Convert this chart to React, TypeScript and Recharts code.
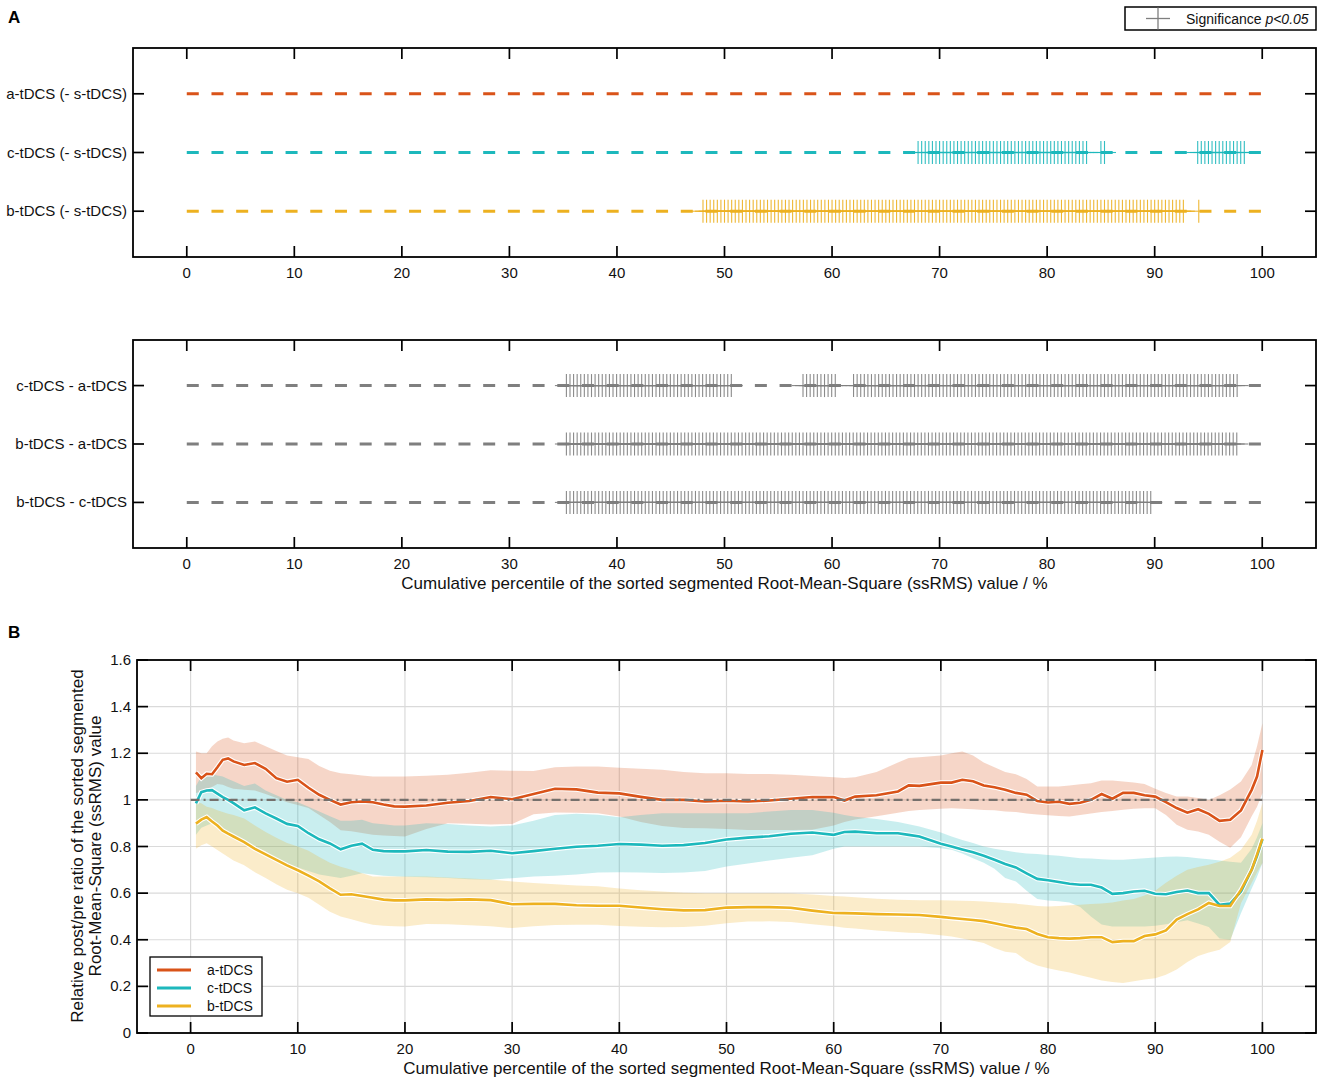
import React from "react"
import { ComposedChart, Line, Scatter, Area, XAxis, YAxis, CartesianGrid, ReferenceLine } from "recharts"

const W = 1325
const H = 1083
const FONT = "'Liberation Sans', Arial, Helvetica, sans-serif"

const RED = "#D95319"
const CYAN = "#1DB8BC"
const YELLOW = "#EDB120"
const GRAY = "#7F7F7F"

// shared x axis
const pctTicks = [0, 10, 20, 30, 40, 50, 60, 70, 80, 90, 100]
const xDomain = [-5, 105]
const lineSpan = [0, 100]

// panel A: significance rows
const rowsVsSham = ["a-tDCS (- s-tDCS)", "c-tDCS (- s-tDCS)", "b-tDCS (- s-tDCS)"]
const rowsPairs = ["c-tDCS - a-tDCS", "b-tDCS - a-tDCS", "b-tDCS - c-tDCS"]
const rowTicks = [1, 2, 3]
const sigStep = 1 / 3 // percentile grid of the tests
// significant percentile ranges [from, to] per row (p<0.05)
const sigVsSham = [[], [[68, 83.7], [85, 85.6], [94, 98.4]], [[48, 92.7], [94.1, 94.1]]]
const sigPairs = [[[35.3, 50.7], [57.3, 60.3], [62, 97.7]], [[35.3, 97.7]], [[35.3, 89.7]]]

// panel B: ratio curves with confidence bands
const pct = [0.5, 1, 1.5, 2, 2.5, 3, 3.5, 4, 5, 6, 7, 8, 9, 10, 11, 12, 13, 14, 15, 16, 17, 18, 19, 20, 22, 24, 26, 28, 30, 32, 34, 36, 38, 40, 42, 44, 46, 48, 50, 52, 54, 56, 58, 60, 61, 62, 64, 66, 67, 68, 70, 71, 72, 73, 74, 75, 76, 77, 78, 79, 80, 81, 82, 83, 84, 85, 86, 87, 88, 89, 90, 91, 92, 93, 94, 95, 96, 97, 98, 99, 99.5, 100]

const aMean = [1.118, 1.093, 1.112, 1.11, 1.14, 1.172, 1.178, 1.165,
  1.15, 1.158, 1.133, 1.093, 1.078, 1.086, 1.052, 1.022, 1.0, 0.98, 0.99, 0.993, 0.99, 0.98, 0.972, 0.971,
  0.976, 0.988, 0.995, 1.012, 1.003, 1.025, 1.048, 1.045, 1.031, 1.028, 1.013, 1.0, 1.0, 0.993, 0.996, 0.993, 0.997, 1.005, 1.012, 1.012,
  0.997, 1.014,
  1.02, 1.036, 1.062, 1.06,
  1.074, 1.074, 1.086, 1.08, 1.062, 1.054, 1.043, 1.03, 1.022, 0.995,
  0.989, 0.992, 0.983, 0.988, 1.0, 1.025, 1.005, 1.03, 1.03, 1.02,
  1.014, 0.99, 0.965, 0.945, 0.96, 0.94, 0.91, 0.915, 0.955, 1.043,
  1.1, 1.214]
const aHi = [1.207, 1.2, 1.2, 1.23, 1.25, 1.262, 1.268, 1.255,
  1.243, 1.25, 1.23, 1.21, 1.19, 1.183, 1.175, 1.145, 1.125, 1.114, 1.11, 1.105, 1.1, 1.1, 1.1, 1.1,
  1.103, 1.108, 1.116, 1.127, 1.125, 1.124, 1.14, 1.143, 1.143, 1.138, 1.133, 1.129, 1.12, 1.114, 1.114, 1.111, 1.111, 1.108, 1.102, 1.097,
  1.094, 1.097,
  1.12, 1.16, 1.18, 1.183,
  1.19, 1.2, 1.207, 1.19, 1.16, 1.14, 1.12, 1.11, 1.09, 1.057,
  1.057, 1.057, 1.062, 1.067, 1.071, 1.083, 1.083, 1.079, 1.075, 1.068,
  1.048, 1.03, 1.014, 1.014, 1.008, 1.0, 1.02, 1.045, 1.079, 1.15,
  1.23, 1.329]
const aLo = [1.03, 1.035, 1.043, 1.055, 1.068, 1.065, 1.055, 1.048,
  1.043, 1.04, 1.025, 1.008, 0.99, 0.978, 0.965, 0.935, 0.905, 0.87, 0.865, 0.858, 0.85, 0.847, 0.845, 0.843,
  0.875, 0.9, 0.898, 0.894, 0.897, 0.938, 0.946, 0.945, 0.943, 0.929, 0.905, 0.888, 0.879, 0.878, 0.875, 0.871, 0.871, 0.871, 0.872, 0.89,
  0.905, 0.916,
  0.93, 0.945, 0.952, 0.957,
  0.962, 0.964, 0.962, 0.96, 0.957, 0.955, 0.95, 0.948, 0.942, 0.937,
  0.934, 0.931, 0.929, 0.935, 0.942, 0.948, 0.952, 0.958, 0.962, 0.964,
  0.964, 0.935, 0.893, 0.872, 0.864, 0.85, 0.82, 0.795, 0.84, 0.93,
  0.97, 1.029]

const cMean = [0.985, 1.033, 1.04, 1.042, 1.027, 1.012, 1.0, 0.986,
  0.955, 0.968, 0.942, 0.92, 0.897, 0.888, 0.857, 0.831, 0.813, 0.788, 0.803, 0.812, 0.786, 0.78, 0.779, 0.779,
  0.785, 0.778, 0.777, 0.782, 0.771, 0.78, 0.79, 0.799, 0.803, 0.811, 0.808, 0.803, 0.806, 0.815, 0.83, 0.838, 0.844, 0.855, 0.86, 0.85,
  0.862, 0.864,
  0.857, 0.857, 0.85, 0.843,
  0.812, 0.8, 0.787, 0.775, 0.76, 0.743, 0.725, 0.71, 0.685, 0.661,
  0.655, 0.648, 0.64, 0.636, 0.636, 0.624, 0.597, 0.6, 0.607, 0.61,
  0.597, 0.595, 0.605, 0.611, 0.6, 0.6, 0.55, 0.555, 0.607, 0.7,
  0.76, 0.831]
const cHi = [1.06, 1.1, 1.105, 1.11, 1.105, 1.1, 1.09, 1.08,
  1.06, 1.07, 1.04, 1.02, 1.0, 0.99, 0.97, 0.95, 0.93, 0.91, 0.91, 0.915, 0.9, 0.895, 0.89, 0.89,
  0.9, 0.897, 0.89, 0.886, 0.89, 0.91, 0.935, 0.94, 0.936, 0.925, 0.935, 0.943, 0.943, 0.943, 0.943, 0.943, 0.95, 0.957, 0.957, 0.945,
  0.935, 0.928,
  0.918, 0.905, 0.895, 0.886,
  0.86, 0.843, 0.828, 0.815, 0.8, 0.79, 0.783, 0.775, 0.77, 0.768,
  0.764, 0.76, 0.755, 0.75, 0.748, 0.745, 0.743, 0.743, 0.746, 0.75,
  0.753, 0.756, 0.757, 0.755, 0.75, 0.745, 0.74, 0.735, 0.73, 0.79,
  0.84, 0.9]
const cLo = [0.85, 0.88, 0.89, 0.9, 0.885, 0.87, 0.855, 0.84,
  0.81, 0.8, 0.78, 0.745, 0.725, 0.71, 0.695, 0.68, 0.672, 0.665, 0.675, 0.685, 0.68, 0.675, 0.672, 0.67,
  0.668, 0.665, 0.66, 0.657, 0.664, 0.671, 0.674, 0.68, 0.689, 0.69, 0.688, 0.686, 0.688, 0.695, 0.714, 0.727, 0.74, 0.752, 0.762, 0.79,
  0.8, 0.8,
  0.8, 0.8, 0.8, 0.8,
  0.792, 0.786, 0.77, 0.75, 0.73, 0.705, 0.665, 0.65, 0.61, 0.575,
  0.568, 0.565, 0.56, 0.54, 0.5, 0.465, 0.457, 0.457, 0.457, 0.457,
  0.46, 0.466, 0.475, 0.484, 0.47, 0.455, 0.405, 0.4, 0.514, 0.62,
  0.67, 0.729]

const bMean = [0.898, 0.915, 0.926, 0.907, 0.89, 0.868, 0.855, 0.843,
  0.819, 0.79, 0.766, 0.743, 0.719, 0.698, 0.675, 0.65, 0.62, 0.593, 0.595, 0.588, 0.58, 0.572, 0.569, 0.569,
  0.573, 0.571, 0.573, 0.57, 0.552, 0.554, 0.554, 0.548, 0.546, 0.546, 0.538, 0.531, 0.526, 0.527, 0.538, 0.54, 0.54, 0.537, 0.525, 0.515,
  0.514, 0.513,
  0.51, 0.508, 0.507, 0.506,
  0.498, 0.493, 0.489, 0.485, 0.48, 0.471, 0.461, 0.452, 0.446, 0.425,
  0.411, 0.407, 0.405, 0.407, 0.411, 0.411, 0.39, 0.394, 0.394, 0.416,
  0.423, 0.44, 0.487, 0.51, 0.53, 0.558, 0.545, 0.545, 0.614, 0.7,
  0.765, 0.834]
const bHi = [0.99, 0.985, 0.97, 0.965, 0.955, 0.948, 0.94, 0.935,
  0.92, 0.89, 0.862, 0.838, 0.815, 0.8, 0.782, 0.755, 0.73, 0.713, 0.7, 0.685, 0.671, 0.671, 0.671, 0.671,
  0.671, 0.667, 0.663, 0.658, 0.65, 0.643, 0.638, 0.633, 0.629, 0.62, 0.612, 0.607, 0.602, 0.6, 0.6, 0.6, 0.6, 0.598, 0.594, 0.588,
  0.585, 0.582,
  0.576, 0.572, 0.57, 0.569,
  0.569, 0.568, 0.567, 0.566, 0.564, 0.561, 0.558, 0.555, 0.55, 0.545,
  0.543, 0.545, 0.548, 0.55, 0.553, 0.556, 0.56, 0.568, 0.575, 0.59,
  0.61, 0.645, 0.675, 0.7, 0.712, 0.722, 0.735, 0.752, 0.786, 0.85,
  0.91, 0.986]
const bLo = [0.79, 0.805, 0.814, 0.8, 0.785, 0.77, 0.755, 0.74,
  0.72, 0.69, 0.665, 0.638, 0.615, 0.6, 0.58, 0.55, 0.52, 0.5, 0.488, 0.475, 0.464, 0.46, 0.458, 0.457,
  0.468, 0.467, 0.462, 0.458, 0.45, 0.458, 0.463, 0.464, 0.464, 0.459, 0.456, 0.454, 0.455, 0.46, 0.471, 0.478, 0.479, 0.476, 0.467, 0.458,
  0.452, 0.448,
  0.44, 0.433, 0.43, 0.429,
  0.419, 0.414, 0.405, 0.396, 0.386, 0.365, 0.348, 0.343, 0.31, 0.29,
  0.278, 0.268, 0.26, 0.248, 0.237, 0.225, 0.219, 0.214, 0.222, 0.23,
  0.235, 0.25, 0.272, 0.305, 0.33, 0.345, 0.357, 0.39, 0.557, 0.645,
  0.69, 0.729]

const ratioTicks = [0, 0.2, 0.4, 0.6, 0.8, 1, 1.2, 1.4, 1.6]
const refLevel = 1
const curveNames = ["a-tDCS", "c-tDCS", "b-tDCS"]
const curveColors = [RED, CYAN, YELLOW]

const xLabel = "Cumulative percentile of the sorted segmented Root-Mean-Square (ssRMS) value / %"

// grid positions of the significant percentiles
const expand = (ranges: number[][]) =>
  ranges.flatMap(([s, e]) => {
    const pts: number[] = []
    for (let v = s; v <= e + 1e-6; v += sigStep) pts.push(v)
    return pts
  })

const ratioData = pct.map((x, i) => ({
  x,
  aMean: aMean[i],
  aBand: [aLo[i], aHi[i]],
  cMean: cMean[i],
  cBand: [cLo[i], cHi[i]],
  bMean: bMean[i],
  bBand: [bLo[i], bHi[i]],
}))

const AXIS_H = 30
const AXIS_W = 120

// ticks drawn inward on both opposite sides, label outside
function XTick(props: any) {
  const { x, y, payload, plotH } = props
  return (
    <g>
      <line x1={x} x2={x} y1={y} y2={y - 11} stroke="#000" strokeWidth={1.7} />
      <line x1={x} x2={x} y1={y - plotH} y2={y - plotH + 11} stroke="#000" strokeWidth={1.7} />
      <text x={x} y={y + 21} textAnchor="middle" fontSize={15} fontFamily={FONT} fill="#111">
        {payload.value}
      </text>
    </g>
  )
}

function YTick(props: any) {
  const { x, y, payload, plotW, text } = props
  return (
    <g>
      <line x1={x} x2={x + 11} y1={y} y2={y} stroke="#000" strokeWidth={1.7} />
      <line x1={x + plotW} x2={x + plotW - 11} y1={y} y2={y} stroke="#000" strokeWidth={1.7} />
      <text x={x - 6} y={y + 5} textAnchor="end" fontSize={15} fontFamily={FONT} fill="#111">
        {text ?? String(payload.value)}
      </text>
    </g>
  )
}

function Plus({ cx, cy, color }: any) {
  if (cx == null || cy == null) return <g />
  return (
    <g opacity={0.9}>
      <line x1={cx} x2={cx} y1={cy - 11.5} y2={cy + 11.5} stroke={color} strokeWidth={1.1} />
      <line x1={cx - 11.5} x2={cx + 11.5} y1={cy} y2={cy} stroke={color} strokeWidth={1.1} />
    </g>
  )
}

function SigPanel({ top, height, plot, labels, colors, sig }: any) {
  // plot = [left, top, right, bottom] of the axes box inside this chart
  const margin = { left: plot[0] - AXIS_W, top: plot[1], right: W - plot[2], bottom: height - plot[3] - AXIS_H }
  const plotH = plot[3] - plot[1]
  const plotW = plot[2] - plot[0]
  return (
    <div style={{ position: "absolute", left: 0, top }}>
      <ComposedChart width={W} height={height} margin={margin}>
        <XAxis
          type="number"
          dataKey="x"
          domain={xDomain}
          ticks={pctTicks}
          interval={0}
          allowDataOverflow
          height={AXIS_H}
          axisLine={false}
          tickLine={false}
          tickSize={0}
          tickMargin={0}
          tick={(p: any) => <XTick {...p} plotH={plotH} />}
        />
        <YAxis
          type="number"
          dataKey="y"
          domain={[0.22, 3.78]}
          ticks={rowTicks}
          interval={0}
          reversed
          allowDataOverflow
          width={AXIS_W}
          axisLine={false}
          tickLine={false}
          tickSize={0}
          tickMargin={0}
          tick={(p: any) => <YTick {...p} plotW={plotW} text={labels[p.payload.value - 1]} />}
        />
        {labels.map((name: string, i: number) => (
          <Line
            key={"l" + name}
            data={lineSpan.map((x) => ({ x, y: i + 1 }))}
            dataKey="y"
            stroke={colors[i]}
            strokeWidth={2.9}
            strokeDasharray="12 12.7"
            dot={false}
            activeDot={false}
            isAnimationActive={false}
          />
        ))}
        {labels.map((name: string, i: number) => (
          <Scatter
            key={"s" + name}
            data={expand(sig[i]).map((x) => ({ x, y: i + 1 }))}
            fill={colors[i]}
            shape={(p: any) => <Plus cx={p.cx} cy={p.cy} color={colors[i]} />}
            isAnimationActive={false}
          />
        ))}
      </ComposedChart>
    </div>
  )
}

function RatioPanel({ top, height, plot }: any) {
  const margin = { left: plot[0] - AXIS_W, top: plot[1], right: W - plot[2], bottom: height - plot[3] - AXIS_H }
  const plotH = plot[3] - plot[1]
  const plotW = plot[2] - plot[0]
  const keys = ["a", "c", "b"]
  return (
    <div style={{ position: "absolute", left: 0, top }}>
      <ComposedChart width={W} height={height} margin={margin} data={ratioData}>
        <CartesianGrid stroke="#DADADA" strokeWidth={1.2} />
        <XAxis
          type="number"
          dataKey="x"
          domain={xDomain}
          ticks={pctTicks}
          interval={0}
          allowDataOverflow
          height={AXIS_H}
          axisLine={false}
          tickLine={false}
          tickSize={0}
          tickMargin={0}
          tick={(p: any) => <XTick {...p} plotH={plotH} />}
        />
        <YAxis
          type="number"
          domain={[0, 1.6]}
          ticks={ratioTicks}
          interval={0}
          allowDataOverflow
          width={AXIS_W}
          axisLine={false}
          tickLine={false}
          tickSize={0}
          tickMargin={0}
          tick={(p: any) => <YTick {...p} plotW={plotW} />}
        />
        {keys.map((k, i) => (
          <Area
            key={"band" + k}
            type="linear"
            dataKey={k + "Band"}
            stroke="none"
            fill={curveColors[i]}
            fillOpacity={0.24}
            activeDot={false}
            isAnimationActive={false}
          />
        ))}
        {keys.map((k) => (
          <Line
            key={"halo" + k}
            type="linear"
            dataKey={k + "Mean"}
            stroke="#fff"
            strokeWidth={4.8}
            dot={false}
            activeDot={false}
            isAnimationActive={false}
          />
        ))}
        {keys.map((k, i) => (
          <Line
            key={"mean" + k}
            type="linear"
            dataKey={k + "Mean"}
            stroke={curveColors[i]}
            strokeWidth={2.6}
            dot={false}
            activeDot={false}
            isAnimationActive={false}
          />
        ))}
        <ReferenceLine
          segment={[
            { x: lineSpan[0], y: refLevel },
            { x: lineSpan[1], y: refLevel },
          ]}
          stroke="#75706C"
          strokeWidth={2.2}
          strokeDasharray="9 4 2 4"
        />
      </ComposedChart>
    </div>
  )
}

export default function App() {
  return (
    <div style={{ position: "absolute", left: 0, top: 0, width: W, height: H, background: "#fff", fontFamily: FONT }}>
      <SigPanel top={0} height={300} plot={[133, 48, 1316, 257]} labels={rowsVsSham} colors={[RED, CYAN, YELLOW]} sig={sigVsSham} />
      <SigPanel top={300} height={300} plot={[133, 40, 1316, 248]} labels={rowsPairs} colors={[GRAY, GRAY, GRAY]} sig={sigPairs} />
      <RatioPanel top={600} height={483} plot={[137, 60, 1316, 433]} />
      <svg width={W} height={H} style={{ position: "absolute", left: 0, top: 0, pointerEvents: "none" }}>
        {/* frames */}
        <rect x={133} y={48} width={1183} height={209} fill="none" stroke="#000" strokeWidth={1.8} />
        <rect x={133} y={340} width={1183} height={208} fill="none" stroke="#000" strokeWidth={1.8} />
        <rect x={137} y={660} width={1179} height={373} fill="none" stroke="#000" strokeWidth={1.8} />

        {/* panel letters */}
        <text x={8} y={23} fontSize={17} fontWeight="bold" fontFamily={FONT}>A</text>
        <text x={8} y={638} fontSize={17} fontWeight="bold" fontFamily={FONT}>B</text>

        {/* significance legend */}
        <rect x={1125} y={7} width={191} height={23} fill="#fff" stroke="#000" strokeWidth={1.5} />
        <line x1={1146} x2={1170} y1={18.5} y2={18.5} stroke={GRAY} strokeWidth={1.3} />
        <line x1={1158} x2={1158} y1={7.5} y2={29.5} stroke={GRAY} strokeWidth={1.3} />
        <text x={1186} y={23.5} fontSize={14} fontFamily={FONT} fill="#111">
          Significance <tspan fontStyle="italic">p&lt;0.05</tspan>
        </text>

        {/* axis labels */}
        <text x={724.5} y={589} textAnchor="middle" fontSize={17} fontFamily={FONT} fill="#111">{xLabel}</text>
        <text x={726.5} y={1074} textAnchor="middle" fontSize={17} fontFamily={FONT} fill="#111">{xLabel}</text>
        <text transform="translate(83 846) rotate(-90)" textAnchor="middle" fontSize={17} fontFamily={FONT} fill="#111">
          Relative post/pre ratio of the sorted segmented
        </text>
        <text transform="translate(101 846) rotate(-90)" textAnchor="middle" fontSize={17} fontFamily={FONT} fill="#111">
          Root-Mean-Square (ssRMS) value
        </text>

        {/* curve legend */}
        <rect x={150} y={957} width={112} height={59} fill="#fff" stroke="#000" strokeWidth={1.3} />
        {curveNames.map((n, i) => (
          <g key={n}>
            <line x1={157} x2={191} y1={970 + i * 18} y2={970 + i * 18} stroke={curveColors[i]} strokeWidth={3} />
            <text x={207} y={975 + i * 18} fontSize={14} fontFamily={FONT} fill="#111">{n}</text>
          </g>
        ))}
      </svg>
    </div>
  )
}
